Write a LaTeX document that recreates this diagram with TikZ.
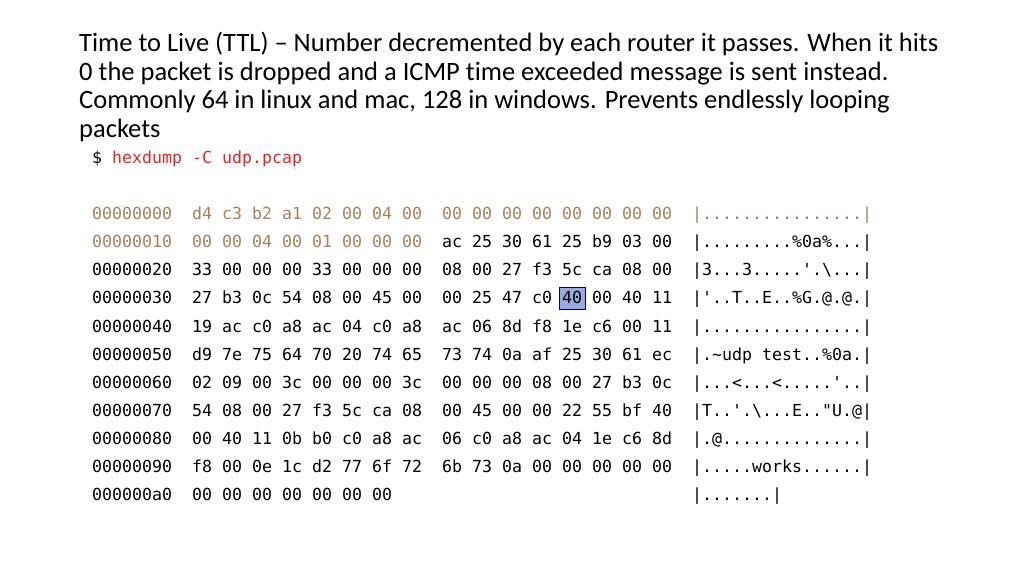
\documentclass[tikz,border=0pt]{standalone}
\usepackage{fontspec}
\setmainfont[Ligatures=NoCommon]{Carlito}
\newfontfamily\hexfont{DejaVu Sans Mono}
\usetikzlibrary{positioning}
\definecolor{hdrbrown}{RGB}{168,128,88}
\definecolor{cmdred}{RGB}{228,38,38}
\definecolor{hlblue}{RGB}{150,172,222}
\newcommand{\sq}{\symbol{39}}
\newcommand{\dq}{\symbol{34}}
\newcommand{\hexline}[4]{\makebox[100bp][l]{#1}\makebox[250bp][l]{#2}\makebox[250bp][l]{#3}#4}
\begin{document}
\begin{tikzpicture}[
    x=1bp, y=-1bp,
    title_text/.style={anchor=north west, align=left, inner sep=0pt, font=\fontsize{26.5bp}{28.6bp}\selectfont},
    hex_row/.style={anchor=base west, inner sep=0pt, font=\hexfont\fontsize{16.6bp}{20bp}\selectfont},
    hex_mark/.style={draw=blue!45!black, fill=hlblue, line width=0.8pt}
  ]
  \useasboundingbox (0,0) rectangle (1024,576);

  \node[title_text] (title) at (79,32) {Time to Live (TTL) – Number decremented by each router it passes. When it hits\\
    0 the packet is dropped and a ICMP time exceeded message is sent instead.\\
    Commonly 64 in linux and mac, 128 in windows. Prevents endlessly looping\\
    packets};

  % highlighted TTL byte
  \draw[hex_mark] (559,287) rectangle (585,309);

  \node[hex_row] (cmd) at (92,164) {\$ \textcolor{cmdred}{hexdump -C udp.pcap}};

  \node[hex_row, text=hdrbrown] (row0) at (92,220) {\hexline{00000000}{d4 c3 b2 a1 02 00 04 00}{00 00 00 00 00 00 00 00}{|................|}};
  \node[hex_row] (row1) at (92,248) {\hexline{\textcolor{hdrbrown}{00000010}}{\textcolor{hdrbrown}{00 00 04 00 01 00 00 00}}{ac 25 30 61 25 b9 03 00}{|.........\%0a\%...|}};
  \node[hex_row] (row2) at (92,276) {\hexline{00000020}{33 00 00 00 33 00 00 00}{08 00 27 f3 5c ca 08 00}{|3...3.....\sq.\textbackslash...|}};
  \node[hex_row] (row3) at (92,304) {\hexline{00000030}{27 b3 0c 54 08 00 45 00}{00 25 47 c0 40 00 40 11}{|\sq..T..E..\%G.@.@.|}};
  \node[hex_row] (row4) at (92,332) {\hexline{00000040}{19 ac c0 a8 ac 04 c0 a8}{ac 06 8d f8 1e c6 00 11}{|................|}};
  \node[hex_row] (row5) at (92,360) {\hexline{00000050}{d9 7e 75 64 70 20 74 65}{73 74 0a af 25 30 61 ec}{|.\textasciitilde udp test..\%0a.|}};
  \node[hex_row] (row6) at (92,388) {\hexline{00000060}{02 09 00 3c 00 00 00 3c}{00 00 00 08 00 27 b3 0c}{|...<...<.....\sq..|}};
  \node[hex_row] (row7) at (92,416) {\hexline{00000070}{54 08 00 27 f3 5c ca 08}{00 45 00 00 22 55 bf 40}{|T..\sq.\textbackslash...E..\dq U.@|}};
  \node[hex_row] (row8) at (92,444) {\hexline{00000080}{00 40 11 0b b0 c0 a8 ac}{06 c0 a8 ac 04 1e c6 8d}{|.@..............|}};
  \node[hex_row] (row9) at (92,472) {\hexline{00000090}{f8 00 0e 1c d2 77 6f 72}{6b 73 0a 00 00 00 00 00}{|.....works......|}};
  \node[hex_row] (row10) at (92,500) {\hexline{000000a0}{00 00 00 00 00 00 00}{}{|.......|}};
\end{tikzpicture}
\end{document}
